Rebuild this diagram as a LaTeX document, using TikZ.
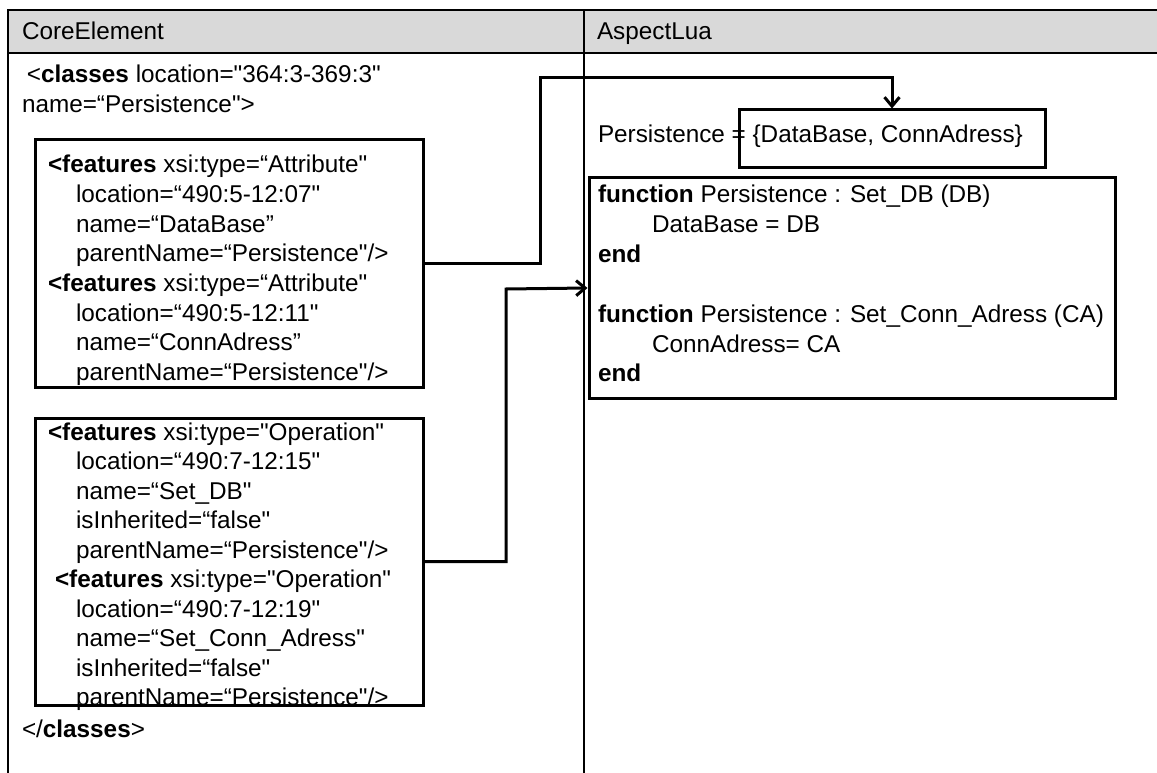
\documentclass[tikz,border=0pt]{standalone}
\usepackage{fontspec}
\setmainfont{Liberation Sans}[Ligatures=TeXOff]
\usetikzlibrary{arrows.meta}
\definecolor{headgray}{RGB}{217,217,217}
\begin{document}
\begin{tikzpicture}[x=1pt,y=-1pt,
  txt/.style={anchor=base west, inner sep=0pt, outer sep=0pt, font=\fontsize{24.3}{29}\selectfont},
  codebox/.style={draw, line width=3pt, rectangle, inner sep=0pt},
  frame/.style={line width=2pt, black},
  divider/.style={line width=1.8pt, black},
  conn/.style={line width=3pt, -{Straight Barb[length=9pt,width=15pt]}}]
\useasboundingbox (0,0) rectangle (1157,773);
% swimlane frame
\fill[headgray] (8,10) rectangle (1157,53);
\draw[frame] (7,10) -- (1157,10);
\draw[frame] (7,53) -- (1157,53);
\draw[frame] (8,10) -- (8,773);
\draw[divider] (584,10) -- (584,773);
\node[txt] (hcore) at (22,40) {CoreElement};
\node[txt] (hasp) at (597,40) {AspectLua};
% left column
\node[txt] (c1) at (27,83) {<\textbf{classes} location="364:3-369:3"};
\node[txt] (c2) at (22,113) {name=“Persistence">};
\node[codebox, minimum width=388, minimum height=247] (box1) at (229,263.5) {};
\node[txt] (a1) at (48,173) {\textbf{<features} xsi:type=“Attribute"};
\node[txt] (a2) at (76,202.6) {location=“490:5-12:07"};
\node[txt] (a3) at (76,232.2) {name=“DataBase”};
\node[txt] (a4) at (76,261.8) {parentName=“Persistence"/>};
\node[txt] (a5) at (48,291.4) {\textbf{<features} xsi:type=“Attribute"};
\node[txt] (a6) at (76,321) {location=“490:5-12:11"};
\node[txt] (a7) at (76,350.6) {name=“ConnAdress”};
\node[txt] (a8) at (76,380.2) {parentName=“Persistence"/>};
\node[codebox, minimum width=388, minimum height=287] (box2) at (229,561.5) {};
\node[txt] (o1) at (48,440) {\textbf{<features} xsi:type="Operation"};
\node[txt] (o2) at (76,469.5) {location=“490:7-12:15"};
\node[txt] (o3) at (76,499) {name=“Set\_DB"};
\node[txt] (o4) at (76,528.5) {isInherited=“false"};
\node[txt] (o5) at (76,558) {parentName=“Persistence"/>};
\node[txt] (o6) at (55,587.5) {\textbf{<features} xsi:type="Operation"};
\node[txt] (o7) at (76,617) {location=“490:7-12:19"};
\node[txt] (o8) at (76,646.5) {name=“Set\_Conn\_Adress"};
\node[txt] (o9) at (76,676) {isInherited=“false"};
\node[txt] (o10) at (76,705.5) {parentName=“Persistence"/>};
\node[txt] (c3) at (22,737) {</\textbf{classes}>};
% right column
\node[txt] (p1) at (598,143) {Persistence = \{DataBase, ConnAdress\}};
\node[codebox, minimum width=306, minimum height=58] (setbox) at (892,139) {};
\node[codebox, minimum width=526, minimum height=220] (fbox) at (852,288) {};
\node[txt] (f1) at (598,203) {\textbf{function} Persistence : Set\_DB (DB)};
\node[txt] (f2) at (652,233) {DataBase = DB};
\node[txt] (f3) at (598,262) {\textbf{end}};
\node[txt] (f4) at (598,322) {\textbf{function} Persistence : Set\_Conn\_Adress (CA)};
\node[txt] (f5) at (652,352) {ConnAdress= CA};
\node[txt] (f6) at (598,381) {\textbf{end}};
% connectors
\coordinate (k1) at (540,78);
\coordinate (k2) at (506,289);
\draw[conn] (box1.east) -| (k1) -| (setbox.north);
\draw[conn] (box2.east) -| (k2) -- (fbox.west);
\end{tikzpicture}
\end{document}
